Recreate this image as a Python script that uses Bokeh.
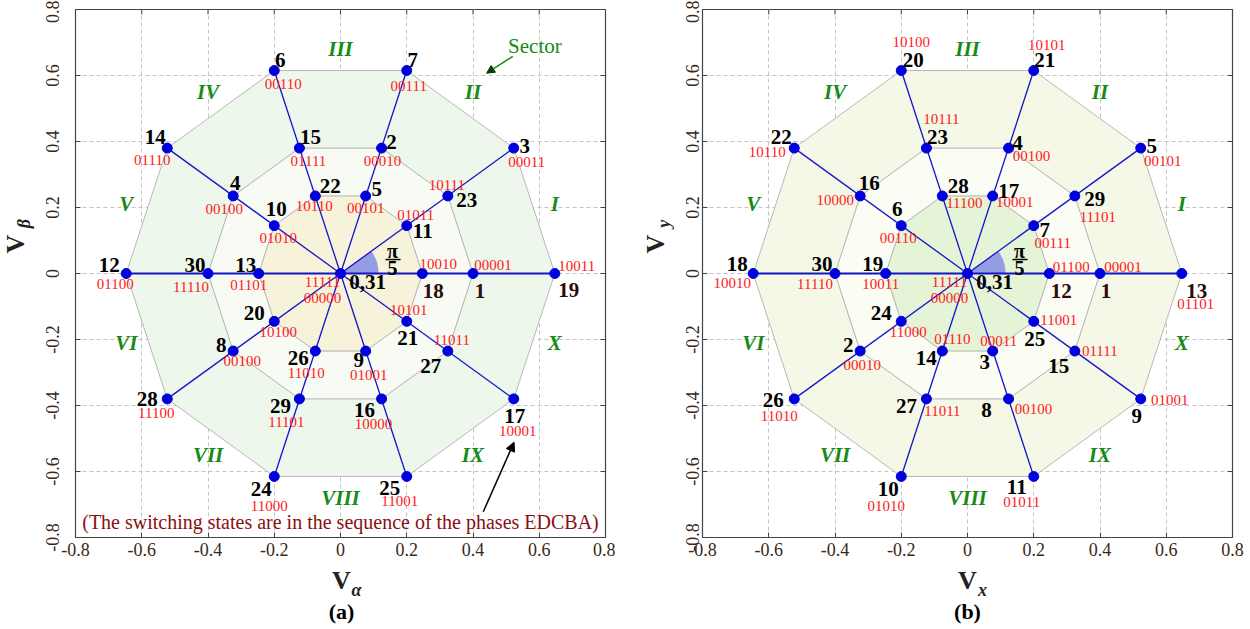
import math
from bokeh.plotting import figure
from bokeh.models import ColumnDataSource, Arrow, NormalHead, FixedTicker, Range1d
from bokeh.layouts import row, column
from bokeh.embed import file_html
from bokeh.resources import INLINE
from bokeh.core.properties import value

# ---------------- data ----------------
# vector tips, ordered by angle 0, 36, ..., 324 degrees
large_x = [0.647, 0.523, 0.200, -0.200, -0.523, -0.647, -0.523, -0.200, 0.200, 0.523]
large_y = [0.000, 0.380, 0.615, 0.615, 0.380, 0.000, -0.380, -0.615, -0.615, -0.380]
medium_x = [0.400, 0.324, 0.124, -0.124, -0.324, -0.400, -0.324, -0.124, 0.124, 0.324]
medium_y = [0.000, 0.235, 0.380, 0.380, 0.235, 0.000, -0.235, -0.380, -0.380, -0.235]
small_x = [0.247, 0.200, 0.076, -0.076, -0.200, -0.247, -0.200, -0.076, 0.076, 0.200]
small_y = [0.000, 0.145, 0.235, 0.235, 0.145, 0.000, -0.145, -0.235, -0.235, -0.145]

# panel (a) labels
a_large_ids = ["19", "3", "7", "6", "14", "12", "28", "24", "25", "17"]
a_large_codes = ["10011", "00011", "00111", "00110", "01110", "01100", "11100", "11000", "11001", "10001"]
a_medium_ids = ["1", "23", "2", "15", "4", "30", "8", "29", "16", "27"]
a_medium_codes = ["00001", "10111", "00010", "01111", "00100", "11110", "00100", "11101", "10000", "11011"]
a_small_ids = ["18", "11", "5", "22", "10", "13", "20", "26", "9", "21"]
a_small_codes = ["10010", "01011", "00101", "10110", "01010", "01101", "10100", "11010", "01001", "10101"]

# panel (b) labels
b_large_ids = ["13", "5", "21", "20", "22", "18", "26", "10", "11", "9"]
b_large_codes = ["01101", "00101", "10101", "10100", "10110", "10010", "11010", "01010", "01011", "01001"]
b_medium_ids = ["1", "29", "4", "23", "16", "30", "2", "27", "8", "15"]
b_medium_codes = ["00001", "11101", "00100", "10111", "10000", "11110", "00010", "11011", "00100", "01111"]
b_small_ids = ["12", "7", "17", "28", "6", "19", "24", "14", "3", "25"]
b_small_codes = ["01100", "00111", "10001", "11100", "00110", "10011", "11000", "01110", "00011", "11001"]

sectors = ["I", "II", "III", "IV", "V", "VI", "VII", "VIII", "IX", "X"]
sector_angles = [18, 54, 90, 126, 162, 198, 234, 270, 306, 342]
tick_vals = [-0.8, -0.6, -0.4, -0.2, 0.0, 0.2, 0.4, 0.6, 0.8]
tick_labels = ["-0.8", "-0.6", "-0.4", "-0.2", "0", "0.2", "0.4", "0.6", "0.8"]

# ---------------- label placement (screen px: dx right, dy down) ----------------
a_off = {
    "large_num": [(14, 16), (11, -2), (6, -11), (6, -11), (-12, -11), (-17, -9), (-20, 0), (-13, 13), (-17, 12), (1, 17)],
    "large_code": [(22, -8), (13, 14), (2, 15), (9, 13), (-15, 12), (-11, 10), (-11, 14), (-5, 30), (-7, 25), (4, 32)],
    "medium_num": [(7, 17), (19, 4), (10, -6), (11, -11), (2, -13), (-13, -9), (-12, -6), (-19, 7), (-17, 11), (-17, 15)],
    "medium_code": [(20, -9), (-1, -11), (1, 13), (9, 13), (-9, 13), (-17, 13), (9, 10), (-13, 23), (-8, 25), (4, -11)],
    "small_num": [(11, 17), (16, 5), (11, -7), (15, -10), (2, -17), (-13, -9), (-20, -8), (-17, 7), (-7, 9), (1, 17)],
    "small_code": [(16, -10), (9, -11), (0, 12), (-1, 10), (4, 12), (-10, 11), (4, 11), (-9, 22), (3, 24), (2, -11)],
}
b_off = {
    "large_num": [(15, 17), (11, -2), (11, -11), (12, -11), (-13, -11), (-16, -10), (-21, 1), (-13, 13), (-17, 11), (-4, 17)],
    "large_code": [(14, 30), (22, 13), (13, -26), (10, -29), (-27, 4), (-21, 9), (-15, 17), (-15, 30), (-12, 26), (29, 1)],
    "medium_num": [(6, 17), (20, 3), (9, -5), (11, -11), (9, -13), (-13, -10), (-12, -6), (-20, 7), (-22, 11), (-16, 15)],
    "medium_code": [(23, -7), (23, 21), (23, 8), (15, -29), (-25, 4), (-20, 10), (2, 14), (16, 12), (25, 10), (25, 0)],
    "small_num": [(12, 17), (11, 4), (16, -5), (16, -10), (-4, -17), (-13, -10), (-20, -8), (-16, 7), (-8, 11), (1, 18)],
    "small_code": [(22, -7), (19, 17), (22, 6), (22, 7), (-3, 12), (-5, 10), (7, 11), (10, -12), (6, -10), (25, -1)],
}

SERIF = value("Liberation Serif")
BLUE = "#0000dd"
LINE_BLUE = "#1414c8"
GREEN = "#178a17"
TICK_COLOR = "#3b2716"
LABEL_COLOR = "#222222"
PX = 331.0  # pixels per data unit (for small decorations)
TOP_H = 567
BOTTOM_H = 629 - TOP_H


def make_panel(ids, codes, off, fills, title_note, left, right, ystand):
    p = figure(x_range=(-0.8, 0.8), y_range=(-0.8, 0.8), frame_width=530, frame_height=528,
               min_border_left=left, min_border_right=right, min_border_top=9, min_border_bottom=30,
               output_backend="svg", toolbar_location=None,
               background_fill_color="white", border_fill_color="white")
    p.outline_line_color = "#444444"
    p.outline_line_width = 1.2
    ticker = FixedTicker(ticks=tick_vals)
    overrides = {t: s for t, s in zip(tick_vals, tick_labels)}
    for ax in (p.xaxis[0], p.yaxis[0]):
        ax.ticker = ticker
        ax.major_label_overrides = overrides
        ax.major_label_text_font = "Liberation Serif"
        ax.major_label_text_font_size = "18px"
        ax.major_label_text_color = TICK_COLOR
        ax.axis_line_color = "#444444"
        ax.major_tick_line_color = "#444444"
        ax.major_tick_in = 5
        ax.major_tick_out = 0
        ax.minor_tick_line_color = None
    p.xaxis.major_label_standoff = 5
    p.yaxis.major_label_standoff = ystand
    p.yaxis.major_label_orientation = "vertical"
    p.grid.ticker = ticker
    p.grid.grid_line_color = "#c4c4c4"
    p.grid.grid_line_dash = "4 3"
    p.grid.grid_line_width = 1

    # decagons
    p.patch(large_x, large_y, fill_color=fills[0], line_color="#b8b8b8", line_width=1)
    p.patch(medium_x, medium_y, fill_color=fills[1], line_color="#b0b0b0", line_width=1)
    p.patch(small_x, small_y, fill_color=fills[2], line_color="#b0b0b0", line_width=1)

    # inner tick marks on the right and top frame edges (half of each dash is clipped by the frame)
    p.scatter(x=[0.8] * len(tick_vals), y=tick_vals, marker="dash", size=10, line_color="#444444", line_width=1)
    p.scatter(x=tick_vals, y=[0.8] * len(tick_vals), marker="dash", angle=math.pi / 2, size=10,
              line_color="#444444", line_width=1)

    # pi/5 wedge
    p.wedge(x=[0], y=[0], radius=0.115, start_angle=0, end_angle=math.radians(36),
            fill_color="#959de3", line_color=None)

    # radial lines from origin to large vertices
    widths = [2.2 if abs(y) < 1e-9 else 1.3 for y in large_y]
    p.segment(x0=[0] * 10, y0=[0] * 10, x1=large_x, y1=large_y, line_color=LINE_BLUE, line_width=widths)

    # vector tips
    p.scatter(large_x + medium_x + small_x + [0], large_y + medium_y + small_y + [0],
              size=10, fill_color=BLUE, line_color=BLUE)

    # labels
    rings = [("large", large_x, large_y), ("medium", medium_x, medium_y), ("small", small_x, small_y)]
    nx, ny, nt, ndx, ndy, ncol = [], [], [], [], [], []
    cx, cy, ct, cdx, cdy = [], [], [], [], []
    for key, xs, ys in rings:
        for i in range(10):
            nx.append(xs[i]); ny.append(ys[i]); nt.append(ids[key][i])
            ndx.append(off[key + "_num"][i][0]); ndy.append(off[key + "_num"][i][1])
            ncol.append("#2e0a0a" if i == 0 else "black")
            cx.append(xs[i]); cy.append(ys[i]); ct.append(codes[key][i])
            cdx.append(off[key + "_code"][i][0]); cdy.append(off[key + "_code"][i][1])
    nsrc = ColumnDataSource(dict(x=nx, y=ny, t=nt, dx=ndx, dy=ndy, c=ncol))
    csrc = ColumnDataSource(dict(x=cx, y=cy, t=ct, dx=cdx, dy=cdy))
    p.text(x="x", y="y", text="t", x_offset="dx", y_offset="dy", source=nsrc, text_color="c",
           text_font=SERIF, text_font_style="bold", text_font_size="21px",
           text_align="center", text_baseline="middle")
    p.text(x="x", y="y", text="t", x_offset="dx", y_offset="dy", source=csrc, text_color="#ff1a1a",
           text_font=SERIF, text_font_size="15px", text_align="center", text_baseline="middle")

    # zero vectors
    p.text(x=[0], y=[0], text=["0,31"], x_offset=27, y_offset=8, text_font=SERIF, text_font_style="bold",
           text_font_size="21px", text_align="center", text_baseline="middle", text_color="black")
    p.text(x=[0, 0], y=[0, 0], text=["11111", "00000"], x_offset=[-18, -18], y_offset=[8, 24],
           text_font=SERIF, text_font_size="15px", text_align="center", text_baseline="middle",
           text_color="#ff1a1a")

    # pi/5 fraction
    p.text(x=[0, 0], y=[0, 0], text=["\u03c0", "5"], x_offset=[52, 52], y_offset=[-23, -6],
           text_font=SERIF, text_font_style="bold", text_font_size="20px",
           text_align="center", text_baseline="middle", text_color="black")
    p.segment(x0=[45 / PX], y0=[14 / PX], x1=[60 / PX], y1=[14 / PX], line_color="black", line_width=1.5)

    # sector numerals
    r = 0.68
    sx = [r * math.cos(math.radians(a)) for a in sector_angles]
    sy = [r * math.sin(math.radians(a)) for a in sector_angles]
    p.text(x=sx, y=sy, text=sectors, text_font=SERIF, text_font_style="bold italic", text_font_size="21px",
           text_align="center", text_baseline="middle", text_color=GREEN)

    if title_note:
        p.text(x=[0.0], y=[-0.753], text=["(The switching states are in the sequence of the phases EDCBA)"],
               text_font=SERIF, text_font_size="20px", text_align="center", text_baseline="middle",
               text_color="#8a1010")
        p.add_layout(Arrow(end=NormalHead(size=9, fill_color="black", line_color="black"),
                           x_start=0.431, y_start=-0.722, x_end=0.524, y_end=-0.511,
                           line_color="black", line_width=1.5))
        p.text(x=[0.587], y=[0.688], text=["Sector"], text_font=SERIF, text_font_size="21px",
               text_align="center", text_baseline="middle", text_color=GREEN)
        p.add_layout(Arrow(end=NormalHead(size=8, fill_color="#0a3a0a", line_color="#0a3a0a"),
                           x_start=0.520, y_start=0.658, x_end=0.441, y_end=0.607,
                           line_color=GREEN, line_width=1.5))
    return p


def strip(w, h):
    s = figure(width=w, height=h, x_range=Range1d(0, w), y_range=Range1d(h, 0),
               min_border=0, x_axis_type=None, y_axis_type=None, output_backend="svg",
               toolbar_location=None, outline_line_color=None, border_fill_color="white",
               background_fill_color="white")
    s.grid.visible = False
    return s


def ylabel(s, x, y, sub):
    s.text(x=[x], y=[y], text=["V"], angle=math.pi / 2, text_font=SERIF, text_font_style="bold",
           text_font_size="26px", text_align="center", text_baseline="middle", text_color=LABEL_COLOR)
    s.text(x=[x + 8], y=[y - 22], text=[sub], angle=math.pi / 2, text_font=SERIF,
           text_font_style="bold italic", text_font_size="18px", text_align="center",
           text_baseline="middle", text_color=LABEL_COLOR)


a_ids = {"large": a_large_ids, "medium": a_medium_ids, "small": a_small_ids}
a_codes = {"large": a_large_codes, "medium": a_medium_codes, "small": a_small_codes}
b_ids = {"large": b_large_ids, "medium": b_medium_ids, "small": b_small_ids}
b_codes = {"large": b_large_codes, "medium": b_medium_codes, "small": b_small_codes}

pa = make_panel(a_ids, a_codes, a_off, ["#eef7ec", "#f7fbf4", "#f6f3da"], True, left=40, right=10, ystand=17)
pb = make_panel(b_ids, b_codes, b_off, ["#f5f8e6", "#fbfcf3", "#e5f4d7"], False, left=28, right=18, ystand=4)

left_strip = strip(35, TOP_H)
ylabel(left_strip, 15, 252, "\u03b2")
mid_strip = strip(59, TOP_H)
ylabel(mid_strip, 40, 252, "y")

bottom = strip(1250, BOTTOM_H)
for cx0, sub, ttl in ((341, "\u03b1", "(a)"), (967, "x", "(b)")):
    bottom.text(x=[cx0], y=[13], text=["V"], text_font=SERIF, text_font_style="bold", text_font_size="26px",
                text_align="center", text_baseline="middle", text_color=LABEL_COLOR)
    bottom.text(x=[cx0 + 15], y=[22], text=[sub], text_font=SERIF, text_font_style="bold italic",
                text_font_size="18px", text_align="center", text_baseline="middle", text_color=LABEL_COLOR)
    bottom.text(x=[cx0], y=[44], text=[ttl], text_font=SERIF, text_font_style="bold", text_font_size="22px",
                text_align="center", text_baseline="middle", text_color="black")

layout = column(row(left_strip, pa, mid_strip, pb), bottom)
open("out.html", "w").write(file_html(layout, INLINE))
